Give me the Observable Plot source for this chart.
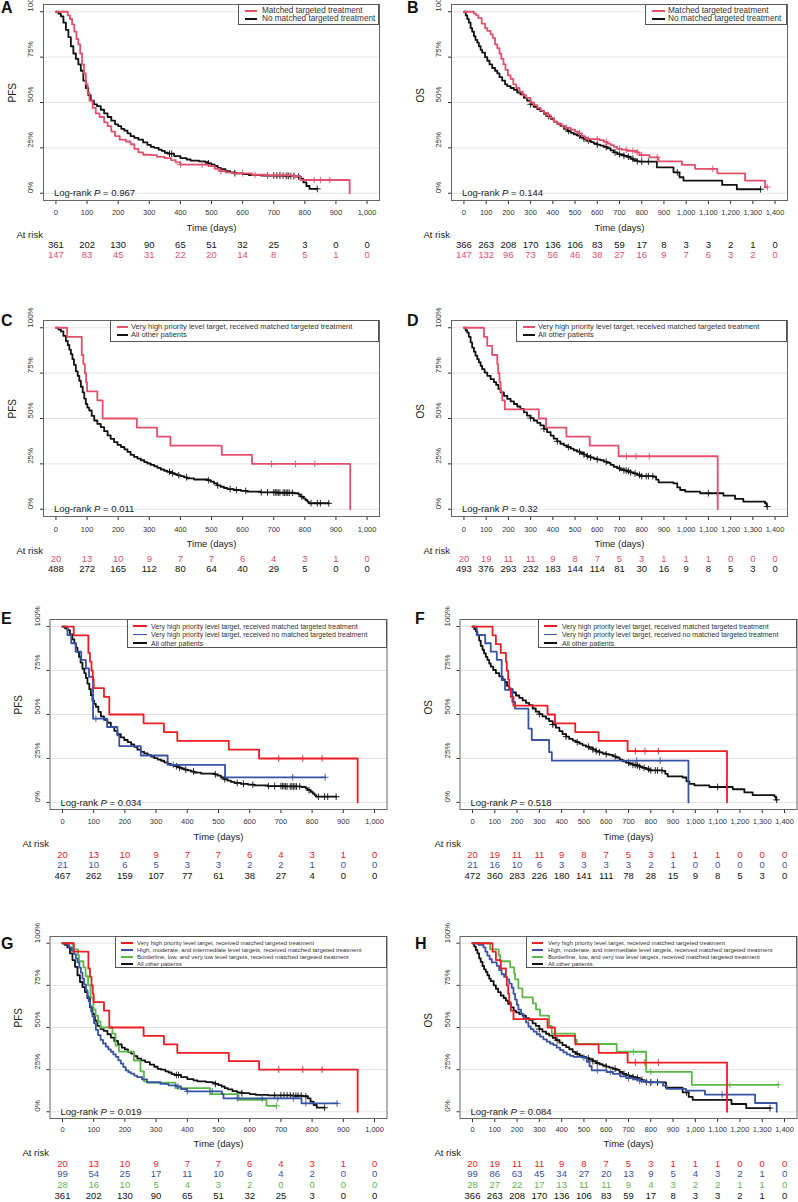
<!DOCTYPE html>
<html><head><meta charset="utf-8">
<script src="https://cdn.jsdelivr.net/npm/d3@7"></script>
<script src="https://cdn.jsdelivr.net/npm/@observablehq/plot@0.6"></script>
<style>
body{margin:0;background:#fff;}
#page{position:relative;width:798px;height:1202px;overflow:hidden;font-family:"Liberation Sans",Arial,sans-serif;color:#222;}
.letter{position:absolute;font-weight:bold;font-size:16px;line-height:15px;color:#111;}
.legend{position:absolute;border:1px solid #555;background:#fff;box-sizing:border-box;}
.legend .sw{position:absolute;height:1.6px;}
.legend .tx{position:absolute;white-space:nowrap;color:#333;}
</style>
</head><body><div id="page"></div>
<script>
// ---------- DATA ----------
const ticks1000 = [0,100,200,300,400,500,600,700,800,900,1000];
const ticks1400 = [0,100,200,300,400,500,600,700,800,900,1000,1100,1200,1300,1400];
const yTicks = [0,25,50,75,100];

// Kaplan-Meier curves: [day, survival %]
const pfsMatched = [[0,100],[30,100],[38,98],[45,96],[52,93],[59,89],[66,85],[72,82],[78,77],[84,71],[90,66],[96,60],[102,55],[108,51],[118,47],[128,44],[140,42],[155,39],[166,37],[178,34],[190,31.5],[205,29.5],[225,28.5],[240,27],[252,24.5],[265,22.5],[280,21.2],[305,21],[325,20],[350,19.3],[370,18.3],[385,17],[400,15.8],[480,15.6],[495,15],[510,13.5],[525,12.2],[545,11.5],[570,11],[630,10.2],[680,9.8],[760,9.4],[786,7.3],[944,0]];
const pfsMatchedCens = [400,470,530,600,640,680,700,720,745,765,830,850,880];
const pfsNoMatch = [[0,100],[8,99],[16,97.5],[24,94],[32,90],[40,86],[48,81],[56,77],[64,74],[72,71],[80,67.5],[88,62],[96,58],[104,54],[112,51],[122,49],[132,48],[144,46],[155,44],[166,42],[178,40],[190,38],[200,37],[210,35.5],[220,34.5],[230,33],[240,31.5],[252,30.5],[265,29.5],[280,28],[294,26.7],[305,25.5],[316,25],[330,24],[340,23.3],[350,22.3],[360,21.8],[380,20.5],[400,19.4],[420,18.6],[433,18],[460,17.6],[480,17.2],[490,16.5],[500,15.8],[510,15],[520,14],[530,13.3],[545,12.2],[560,11.5],[575,11],[600,10.5],[620,10],[660,9.7],[740,9.5],[770,9.2],[786,8],[795,6],[805,4],[815,2.4],[840,2.4]];
const pfsNoMatchCens = [365,372,490,575,680,700,710,720,730,740,748,755,765,780,840];

const osMatched = [[0,100],[35,100],[45,99],[55,98],[65,96.5],[80,93.5],[95,91],[105,89.5],[120,87.5],[130,85.5],[140,82],[150,80],[160,77],[168,74],[178,71],[187,68],[198,65],[210,63],[222,60],[235,58],[250,56],[265,54],[280,52.5],[299,50],[315,48.5],[330,47],[345,45.5],[360,44.3],[375,43],[390,41.5],[405,39.5],[420,38.3],[440,37],[460,36],[480,35],[500,34],[515,33],[530,31.5],[545,30.5],[555,29.8],[610,29.3],[630,28.3],[645,27.3],[660,26.5],[675,25.5],[690,24.5],[710,24],[735,23.3],[778,22.5],[790,21],[835,19.8],[875,17.6],[981,15.6],[1040,13.4],[1140,11],[1265,7],[1355,3.3],[1365,3.3]];
const osMatchedCens = [380,460,520,560,600,640,700,730,760,780,800,870,1120,1365];
const osNoMatch = [[0,100],[8,98],[15,96],[22,94],[30,91],[37,89],[45,86.5],[52,84.5],[60,83],[67,81],[75,79],[82,77.5],[95,75],[105,73],[115,71],[127,69],[140,67.5],[150,66],[160,64],[172,62],[185,60],[195,59],[210,58],[225,57],[240,55.5],[254,54.5],[270,52.5],[284,51],[300,49],[314,47.6],[330,46.3],[344,45.2],[360,43.8],[374,42.5],[390,41],[404,39.5],[420,38.3],[434,37.1],[450,35.5],[464,34.3],[480,33.3],[494,32.5],[510,31.8],[524,31],[540,30],[554,28.9],[570,28.2],[584,27.5],[600,26.8],[614,26.2],[630,25.5],[644,24.8],[660,23.6],[674,22.5],[690,21.6],[704,21.2],[720,20.6],[734,20.1],[750,19],[763,18.3],[780,17.6],[793,17.4],[868,14.3],[943,11.5],[970,8.8],[988,7],[1162,4.6],[1228,2.2],[1335,2.2]];
const osNoMatchCens = [300,380,470,520,540,560,600,640,680,700,720,740,760,780,800,830,960,1335];

const pfsVhpMatched = [[0,100],[36,95],[83,85],[88,80],[93,75],[97,70],[100,65],[133,60],[150,50],[260,45],[325,40],[368,35],[533,30],[630,25],[946,0]];
const pfsVhpMatchedCens = [693,770,832];
const pfsOther = [[0,100],[8,99],[16,98],[24,95.5],[32,92.7],[38,90.5],[43,88],[48,85.5],[53,82.7],[58,79.5],[64,76],[70,73.5],[75,70.8],[80,67.5],[86,64.4],[91,61],[96,58],[101,56],[107,54.4],[115,51.5],[123,48.9],[133,47],[144,45.3],[155,43],[166,40.7],[176,38.8],[187,37],[198,35.5],[209,34.3],[220,33],[230,31.6],[240,30],[251,28.8],[262,27.9],[273,27],[284,26],[294,25.2],[305,24.4],[316,23.7],[326,22.8],[337,21.9],[348,21.2],[358,20.6],[370,19.9],[380,19.3],[390,18.7],[401,18.2],[412,17.6],[422,17],[444,16.4],[487,16],[497,15.2],[508,14.2],[518,13.2],[529,12.4],[540,11.7],[551,11.1],[572,10.6],[595,10.1],[615,9.7],[658,9.3],[711,9.1],[765,8.8],[780,8],[786,7],[795,6],[802,5.1],[808,4.2],[813,3.3],[877,3.3]];
const pfsOtherCens = [365,375,395,420,490,520,560,580,610,660,680,700,705,710,715,720,730,735,740,745,750,760,790,820,840,850,877];
const pfsVhpNoMatch = [[0,100],[16,95.2],[28,90.5],[42,85.7],[60,81],[75,76.2],[85,71.4],[98,47.6],[143,42.9],[176,38.1],[182,32],[251,26.7],[337,21.4],[521,14.3],[842,14.3]];
const pfsVhpNoMatchCens = [107,355,738,842];
const pfsHighMatched = [[0,100],[16,99],[21,97.6],[30,95.5],[37,93.6],[43,91],[48,88.6],[54,85.5],[59,82.6],[64,79],[69,75.6],[75,72],[80,68.6],[84,65.5],[88,62.6],[92,59.5],[96,56.6],[101,52.5],[107,48.6],[114,45.5],[122,42.6],[130,40.5],[139,38.6],[147,37],[155,35.6],[163,34],[171,32.6],[179,30.5],[187,28.6],[195,26.5],[203,24.6],[211,23.5],[219,22.6],[230,21.5],[239,20.6],[255,19.2],[271,17.5],[314,16.5],[340,15.7],[367,15],[380,13.5],[399,12.1],[511,10.5],[516,8],[766,5],[880,5]];
const pfsHighMatchedCens = [370,400,480,560,640,690,740,780,880];
const pfsLowMatched = [[0,100],[35,96.4],[50,92.9],[53,89.3],[67,85.7],[74,80.4],[82,75],[90,67.9],[99,60.7],[106,57.1],[114,53.6],[122,50],[160,46.4],[170,39.3],[181,35.7],[229,30.4],[250,24],[261,18],[271,17.3],[362,14],[473,10.5],[564,7],[654,3.5],[686,3.5]];
const pfsLowMatchedCens = [686];

const osVhpMatched = [[0,100],[90,95],[105,90],[127,85],[150,80],[154,75],[160,70],[165,65],[172,60],[184,55],[337,50],[370,45],[461,40],[566,35],[696,29.2],[1142,0]];
const osVhpMatchedCens = [731,774,834];
const osOther = [[0,100],[8,98.5],[15,97.3],[22,95],[30,92],[37,89],[45,86.8],[52,84.7],[60,82.7],[67,81],[75,79],[82,77.2],[93,75.3],[105,73.5],[120,71.7],[135,70],[145,68.5],[155,66.3],[165,64.4],[180,62.5],[195,60.8],[210,59.4],[225,58],[240,56.6],[254,55.3],[270,53.4],[284,51.6],[300,50.2],[314,48.9],[330,47.6],[344,46.2],[360,44.3],[374,42.5],[390,40.6],[404,38.9],[420,37.4],[434,36.1],[450,35.2],[464,34.3],[480,33.4],[494,32.5],[510,31.7],[524,31],[540,30.1],[554,29.2],[570,28.5],[584,27.9],[600,27.4],[614,27],[630,26.2],[644,25.5],[660,24.4],[674,23.4],[690,22.6],[704,21.9],[720,21.4],[734,21],[750,20.3],[763,19.7],[780,18.9],[793,18.2],[853,17.9],[865,16.3],[876,14.8],[943,14.2],[960,12],[973,10.6],[996,9.7],[1063,8.8],[1168,7.5],[1220,5.7],[1257,4.2],[1355,3.3],[1362,1.5],[1365,1.5]];
const osOtherCens = [300,360,420,470,520,540,555,570,600,640,700,720,730,740,750,770,790,800,820,830,850,1100,1140,1365];
const osVhpNoMatch = [[0,100],[19,95.2],[57,90.5],[82,85.7],[109,81],[131,69.5],[146,64],[179,57.1],[191,53.3],[251,42],[266,35.5],[344,28.6],[356,23.8],[969,0]];
const osVhpNoMatchCens = [737,842];
const osHighMatched = [[0,100],[27,99],[49,97.6],[58,95],[67,92.6],[77,90.5],[87,88.6],[109,86.6],[120,84],[131,81.6],[142,80],[154,78.6],[165,76],[176,73.6],[184,70],[191,66.6],[199,63.5],[206,60.6],[218,58],[229,55.6],[240,53],[251,50.6],[262,49],[274,47.6],[288,46],[303,44.6],[318,43],[333,41.6],[348,40.5],[363,39.6],[378,38],[393,36.6],[408,35.2],[423,34],[438,33.2],[453,32.6],[490,32.2],[513,29.6],[525,27],[535,24.6],[602,23.6],[630,22.5],[662,21],[690,20],[722,19.2],[750,18.3],[782,17.6],[855,15.5],[871,13.6],[958,12.6],[1043,10.2],[1268,5.2],[1365,0]];
const osHighMatchedCens = [500,560,620,700,750,800,1120];
const osLowMatched = [[0,100],[79,96.4],[118,92.9],[124,89.3],[169,85.7],[187,82.1],[191,78.6],[206,73.2],[224,67.9],[271,64.3],[285,60.7],[303,57.1],[344,51],[356,46.4],[460,42.6],[468,40.2],[647,35.6],[779,23.7],[984,16],[1372,16]];
const osLowMatchedCens = [722,800,1155,1372];

// Numbers at risk
const riskA_noMatch = [361,202,130,90,65,51,32,25,3,0,0];
const riskA_matched = [147,83,45,31,22,20,14,8,5,1,0];
const riskB_noMatch = [366,263,208,170,136,106,83,59,17,8,3,3,2,1,0];
const riskB_matched = [147,132,96,73,56,46,38,27,16,9,7,6,3,2,0];
const riskC_vhp = [20,13,10,9,7,7,6,4,3,1,0];
const riskC_other = [488,272,165,112,80,64,40,29,5,0,0];
const riskD_vhp = [20,19,11,11,9,8,7,5,3,1,1,1,0,0,0];
const riskD_other = [493,376,293,232,183,144,114,81,30,16,9,8,5,3,0];
const riskE_vhpMatched = [20,13,10,9,7,7,6,4,3,1,0];
const riskE_vhpNoMatch = [21,10,6,5,3,3,2,2,1,0,0];
const riskE_other = [467,262,159,107,77,61,38,27,4,0,0];
const riskF_vhpMatched = [20,19,11,11,9,8,7,5,3,1,1,1,0,0,0];
const riskF_vhpNoMatch = [21,16,10,6,3,3,3,3,2,1,0,0,0,0,0];
const riskF_other = [472,360,283,226,180,141,111,78,28,15,9,8,5,3,0];
const riskG_vhp = [20,13,10,9,7,7,6,4,3,1,0];
const riskG_high = [99,54,25,17,11,10,6,4,2,0,0];
const riskG_low = [28,16,10,5,4,3,2,0,0,0,0];
const riskG_other = [361,202,130,90,65,51,32,25,3,0,0];
const riskH_vhp = [20,19,11,11,9,8,7,5,3,1,1,1,0,0,0];
const riskH_high = [99,86,63,45,34,27,20,13,9,5,4,3,2,1,0];
const riskH_low = [28,27,22,17,13,11,11,9,4,3,2,2,1,1,0];
const riskH_other = [366,263,208,170,136,106,83,59,17,8,3,3,2,1,0];

const pValues = {A:"0.967",B:"0.144",C:"0.011",D:"0.32",E:"0.034",F:"0.518",G:"0.019",H:"0.084"};
const labMatched = "Matched targeted treatment";
const labNoMatched = "No matched targeted treatment";
const labVhpMatched = "Very high priority level target, received matched targeted treatment";
const labVhpNoMatched = "Very high priority level target, received no matched targeted treatment";
const labHigh = "High, moderate, and intermediate level targets, received matched targeted treatment";
const labLow = "Borderline, low, and very low level targets, received matched targeted treatment";
const labOther = "All other patients";

// ---------- STYLE ----------
const pink = "#e4506c", red = "#ee1d23", blue = "#3953a4", green = "#5bb847", black = "#111111";

const panels = [
 {id:"A", left:0, top:0, width:400, height:266, frame:[43,379,4,200], xmax:1000, xTicks:ticks1000, ylabel:"PFS", tickPad:5, timeDy:30, atRiskX:16,
  curves:[[pfsNoMatch,pfsNoMatchCens,black],[pfsMatched,pfsMatchedCens,pink]],
  rows:[[riskA_noMatch,black,47],[riskA_matched,pink,57]],
  legend:{box:[238,4,379,25], sw:[245,257], tx:262, ys:[11,19], fs:8.2, items:[[labMatched,pink],[labNoMatched,black]]}, letter:[1,0]},
 {id:"B", left:400, top:0, width:398, height:266, frame:[451,787,4,200], xmax:1400, xTicks:ticks1400, ylabel:"OS", tickPad:5, timeDy:30, atRiskX:423,
  curves:[[osNoMatch,osNoMatchCens,black],[osMatched,osMatchedCens,pink]],
  rows:[[riskB_noMatch,black,47],[riskB_matched,pink,57]],
  legend:{box:[645,4,787,25], sw:[652,665], tx:668, ys:[11,19], fs:8.2, items:[[labMatched,pink],[labNoMatched,black]]}, letter:[407,0]},
 {id:"C", left:0, top:310, width:400, height:270, frame:[43,379,320,516], xmax:1000, xTicks:ticks1000, ylabel:"PFS", tickPad:6, timeDy:30, atRiskX:16,
  curves:[[pfsOther,pfsOtherCens,black],[pfsVhpMatched,pfsVhpMatchedCens,pink]],
  rows:[[riskC_vhp,pink,45],[riskC_other,black,55]],
  legend:{box:[110,320,379,342], sw:[117,128], tx:131, ys:[327,335], fs:7.5, items:[[labVhpMatched,pink],[labOther,black]]}, letter:[1,313]},
 {id:"D", left:400, top:310, width:398, height:270, frame:[451,787,320,516], xmax:1400, xTicks:ticks1400, ylabel:"OS", tickPad:6, timeDy:30, atRiskX:423,
  curves:[[osOther,osOtherCens,black],[osVhpMatched,osVhpMatchedCens,pink]],
  rows:[[riskD_vhp,pink,45],[riskD_other,black,55]],
  legend:{box:[516,320,787,342], sw:[523,535], tx:538, ys:[327,335], fs:7.5, items:[[labVhpMatched,pink],[labOther,black]]}, letter:[407,313]},
 {id:"E", left:0, top:610, width:400, height:276, frame:[49.5,386.5,619,809], xmax:1000, xTicks:ticks1000, ylabel:"PFS", tickPad:5, timeDy:30, atRiskX:22,
  curves:[[pfsOther,pfsOtherCens,black],[pfsVhpNoMatch,pfsVhpNoMatchCens,blue],[pfsVhpMatched,pfsVhpMatchedCens,red]],
  rows:[[riskE_vhpMatched,red,48],[riskE_vhpNoMatch,blue,58],[riskE_other,black,69]],
  legend:{box:[127,619,387,648], sw:[133,147], tx:151, ys:[626,634.5,643], fs:7, items:[[labVhpMatched,red],[labVhpNoMatched,blue],[labOther,black]]}, letter:[1,611]},
 {id:"F", left:400, top:610, width:398, height:276, frame:[459.5,796.5,619,809], xmax:1400, xTicks:ticks1400, ylabel:"OS", tickPad:5, timeDy:30, atRiskX:434,
  curves:[[osOther,osOtherCens,black],[osVhpNoMatch,osVhpNoMatchCens,blue],[osVhpMatched,osVhpMatchedCens,red]],
  rows:[[riskF_vhpMatched,red,48],[riskF_vhpNoMatch,blue,58],[riskF_other,black,69]],
  legend:{box:[538,619,797,648], sw:[544,557], tx:562, ys:[626,634.5,643], fs:7, items:[[labVhpMatched,red],[labVhpNoMatched,blue],[labOther,black]]}, letter:[415,611]},
 {id:"G", left:0, top:925, width:400, height:277, frame:[49.5,386.5,936,1118], xmax:1000, xTicks:ticks1000, ylabel:"PFS", tickPad:4, timeDy:28, atRiskX:22,
  curves:[[pfsNoMatch,pfsNoMatchCens,black],[pfsLowMatched,pfsLowMatchedCens,green],[pfsHighMatched,pfsHighMatchedCens,blue],[pfsVhpMatched,pfsVhpMatchedCens,red]],
  rows:[[riskG_vhp,red,48],[riskG_high,blue,58],[riskG_low,green,69],[riskG_other,black,80]],
  legend:{box:[115,936,387,968], sw:[121,133], tx:137, ys:[943,950,957,964], fs:6, items:[[labVhpMatched,red],[labHigh,blue],[labLow,green],[labOther,black]]}, letter:[1,936]},
 {id:"H", left:400, top:925, width:398, height:277, frame:[459.5,796.5,936,1118], xmax:1400, xTicks:ticks1400, ylabel:"OS", tickPad:4, timeDy:28, atRiskX:434,
  curves:[[osNoMatch,osNoMatchCens,black],[osLowMatched,osLowMatchedCens,green],[osHighMatched,osHighMatchedCens,blue],[osVhpMatched,osVhpMatchedCens,red]],
  rows:[[riskH_vhp,red,48],[riskH_high,blue,58],[riskH_low,green,69],[riskH_other,black,80]],
  legend:{box:[526,936,797,968], sw:[532,543], tx:548, ys:[943,950,957,964], fs:6, items:[[labVhpMatched,red],[labHigh,blue],[labLow,green],[labOther,black]]}, letter:[415,936]}
];

function survAt(curve, t) {
  let v = curve[0][1];
  for (const [x, y] of curve) { if (x <= t) v = y; else break; }
  return v;
}

const page = document.getElementById("page");

for (const p of panels) {
  const mL = p.frame[0] - p.left, mR = p.width - (p.frame[1] - p.left);
  const mT = p.frame[2] - p.top, mB = p.height - (p.frame[3] - p.top);
  const marks = [
    Plot.ruleY(yTicks, {stroke: "#e4e4e4", strokeWidth: 1}),
    Plot.axisX({ticks: p.xTicks, tickSize: 4, tickPadding: p.tickPad, tickFormat: d3.format(","), fontSize: 7.5, label: null}),
    Plot.axisY({ticks: yTicks, tickSize: 3, tickFormat: () => "", label: null}),
    Plot.text(yTicks, {y: d => d, text: d => d + "%", frameAnchor: "left", dx: -13, rotate: -90, fontSize: 8, fill: "#333"}),
    Plot.text([p.ylabel], {text: d => d, frameAnchor: "left", dx: -31, rotate: -90, fontSize: 10, fill: "#222"}),
    Plot.text(["Time (days)"], {text: d => d, frameAnchor: "bottom", dy: p.timeDy, fontSize: 9.5, fill: "#222"}),
    Plot.text(["At risk"], {text: d => d, frameAnchor: "bottom-left", dx: p.atRiskX - p.frame[0], dy: 37, textAnchor: "start", fontSize: 9.5, fill: "#222"}),
    Plot.text([{x: 0, y: 0, t: "Log-rank P = " + pValues[p.id]}], {x: "x", y: "y", text: "t", dx: -2, textAnchor: "start", fontSize: 9.5, fill: "#222"})
  ];
  for (const [curve, cens, col] of p.curves) {
    marks.push(Plot.line(curve, {x: d => d[0], y: d => d[1], curve: "step-after", stroke: col, strokeWidth: 1.8}));
    marks.push(Plot.dot(cens, {x: d => d, y: d => survAt(curve, d), symbol: "plus", r: 2.3, stroke: col, strokeWidth: 0.9}));
  }
  for (const [vals, col, dy] of p.rows) {
    marks.push(Plot.text(p.xTicks, {x: d => d, text: (d, i) => String(vals[i]), frameAnchor: "bottom", dy: dy, fill: col, fontSize: 9.5}));
  }
  marks.push(Plot.frame({stroke: "#666", strokeWidth: 1}));

  const svg = Plot.plot({
    width: p.width, height: p.height,
    marginLeft: mL, marginRight: mR, marginTop: mT, marginBottom: mB,
    x: {domain: [-0.04 * p.xmax, 1.04 * p.xmax]},
    y: {domain: [-4, 104]},
    style: {fontFamily: "'Liberation Sans', Arial, sans-serif", background: "transparent", color: "#333", overflow: "visible"},
    marks
  });
  svg.style.position = "absolute";
  svg.style.left = p.left + "px";
  svg.style.top = p.top + "px";
  // italic P in the log-rank annotation
  svg.querySelectorAll("text").forEach(t => {
    if (t.textContent.startsWith("Log-rank P")) {
      const rest = t.textContent.slice("Log-rank P".length);
      t.textContent = "";
      const ns = "http://www.w3.org/2000/svg";
      const a = document.createElementNS(ns, "tspan"); a.textContent = "Log-rank ";
      const b = document.createElementNS(ns, "tspan"); b.textContent = "P"; b.setAttribute("font-style", "italic");
      const c = document.createElementNS(ns, "tspan"); c.textContent = rest;
      t.append(a, b, c);
    }
  });
  page.appendChild(svg);

  // legend box
  const L = p.legend;
  const box = document.createElement("div");
  box.className = "legend";
  box.style.left = L.box[0] + "px"; box.style.top = L.box[1] + "px";
  box.style.width = (L.box[2] - L.box[0]) + "px"; box.style.height = (L.box[3] - L.box[1]) + "px";
  L.items.forEach(([label, col], i) => {
    const y = L.ys[i] - L.box[1] - 1;
    const sw = document.createElement("div");
    sw.className = "sw";
    sw.style.left = (L.sw[0] - L.box[0] - 1) + "px";
    sw.style.width = (L.sw[1] - L.sw[0]) + "px";
    sw.style.top = (y - 0.8) + "px";
    sw.style.background = col;
    const tx = document.createElement("div");
    tx.className = "tx";
    tx.textContent = label;
    tx.style.left = (L.tx - L.box[0] - 1) + "px";
    tx.style.fontSize = L.fs + "px";
    tx.style.lineHeight = L.fs + "px";
    tx.style.top = (y - L.fs / 2) + "px";
    box.appendChild(sw); box.appendChild(tx);
  });
  page.appendChild(box);

  const letter = document.createElement("div");
  letter.className = "letter";
  letter.textContent = p.id;
  letter.style.left = p.letter[0] + "px";
  letter.style.top = p.letter[1] + "px";
  page.appendChild(letter);
}
</script>
</body></html>
